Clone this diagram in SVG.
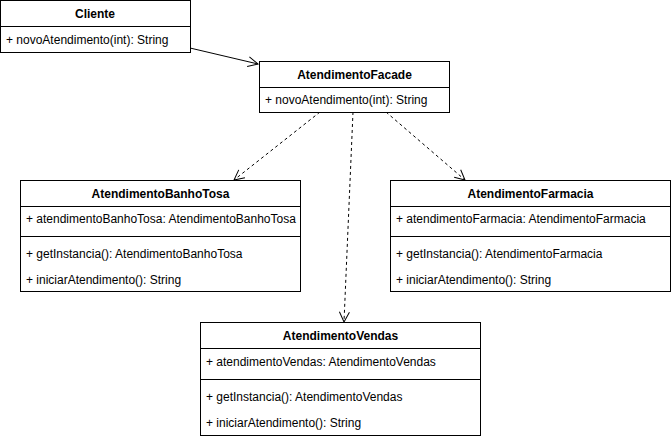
<svg xmlns="http://www.w3.org/2000/svg" width="671" height="439" viewBox="0 0 671 439">
<style>
rect{fill:#fff;stroke:#000;stroke-width:1}
.sep{stroke:#000;stroke-width:1}
text{font-family:"Liberation Sans",Arial,sans-serif;font-size:12px;fill:#000}
.h{font-weight:bold;text-anchor:middle}
.c{fill:none;stroke:#000;stroke-width:1}
.d{stroke-dasharray:3 3}
</style>
<defs>
<marker id="open" viewBox="0 0 12 12" refX="11" refY="6" markerWidth="12" markerHeight="12" markerUnits="userSpaceOnUse" orient="auto">
<path d="M1,1 L11,6 L1,11" fill="none" stroke="#000" stroke-width="1"/>
</marker>
</defs>
<g id="connectors">
<line class="c" x1="190" y1="48" x2="258" y2="64" marker-end="url(#open)"/>
<line class="c d" x1="320" y1="112" x2="234" y2="180" marker-end="url(#open)"/>
<line class="c d" x1="353" y1="112" x2="344" y2="322" marker-end="url(#open)"/>
<line class="c d" x1="386" y1="112" x2="465" y2="180" marker-end="url(#open)"/>
</g>
<g id="Cliente">
<rect x="0.5" y="0.5" width="190" height="52"/>
<line class="sep" x1="0.5" y1="26.5" x2="190.5" y2="26.5"/>
<text class="h" x="95" y="18">Cliente</text>
<text x="6" y="44">+ novoAtendimento(int): String</text>
</g>
<g id="AtendimentoFacade">
<rect x="259.5" y="61.5" width="190" height="51"/>
<line class="sep" x1="259.5" y1="87.5" x2="449.5" y2="87.5"/>
<text class="h" x="354.5" y="79">AtendimentoFacade</text>
<text x="265" y="104">+ novoAtendimento(int): String</text>
</g>
<g id="AtendimentoBanhoTosa">
<rect x="20.5" y="180.5" width="280" height="111"/>
<line class="sep" x1="20.5" y1="206.5" x2="300.5" y2="206.5"/>
<line class="sep" x1="20.5" y1="236.5" x2="300.5" y2="236.5"/>
<text class="h" x="160.5" y="198">AtendimentoBanhoTosa</text>
<text x="26" y="223">+ atendimentoBanhoTosa: AtendimentoBanhoTosa</text>
<text x="26" y="258">+ getInstancia(): AtendimentoBanhoTosa</text>
<text x="26" y="284">+ iniciarAtendimento(): String</text>
</g>
<g id="AtendimentoFarmacia">
<rect x="390.5" y="180.5" width="280" height="111"/>
<line class="sep" x1="390.5" y1="206.5" x2="670.5" y2="206.5"/>
<line class="sep" x1="390.5" y1="236.5" x2="670.5" y2="236.5"/>
<text class="h" x="530.5" y="198">AtendimentoFarmacia</text>
<text x="396" y="223">+ atendimentoFarmacia: AtendimentoFarmacia</text>
<text x="396" y="258">+ getInstancia(): AtendimentoFarmacia</text>
<text x="396" y="284">+ iniciarAtendimento(): String</text>
</g>
<g id="AtendimentoVendas">
<rect x="200.5" y="322.5" width="280" height="113"/>
<line class="sep" x1="200.5" y1="348.5" x2="480.5" y2="348.5"/>
<line class="sep" x1="200.5" y1="379.5" x2="480.5" y2="379.5"/>
<text class="h" x="340.5" y="340">AtendimentoVendas</text>
<text x="206" y="366">+ atendimentoVendas: AtendimentoVendas</text>
<text x="206" y="401">+ getInstancia(): AtendimentoVendas</text>
<text x="206" y="427">+ iniciarAtendimento(): String</text>
</g>
</svg>
